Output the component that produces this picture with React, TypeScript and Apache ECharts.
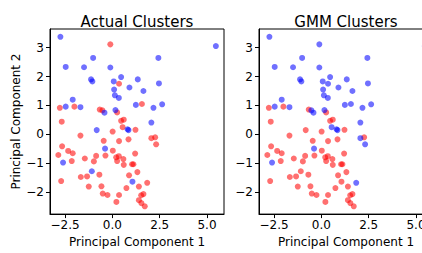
import React, { useEffect, useRef } from "react";
import * as echarts from "echarts";

// Principal component coordinates of each sample
const pc1: number[] = [
  -2.75, -0.11, -1.02, 2.43, -2.47, -1.5, -0.11, -1.13, -1.06, 0.46,
  0.07, 0.35, 1.34, 2.46, 0.9, 0.09, 1.64, 0.13, 0.34, -2.1,
  1.24, 1.56, 2.17, 2.63, -2.78, -2.47, -2.01, -1.69, -0.67, -0.53,
  -0.42, 0.16, 0.25, -2.68, 0.46, 0.6, 2.06, 5.47,
  0.54, 0.85, 0.8, 1.22, -0.83, 0.01, -1.69, 2.06, 2.26, 2.31,
  -0.46, 0.35, 0.85, -0.39, -2.66, -2.34, -2.1, -2.86, -2.61, -2.15,
  -1.46, -0.98, -0.86, -0.37, 0.02, 0.2, 0.34, 0.25, 0.58, 0.6,
  1.04, 1.11, 1.2, 1.32, -1.09, -0.69, -1.34, -1.67, -2.71, 0.88,
  1.06, 1.84, 1.4, 0.74, -1.25, -0.58, -0.51, -0.26, 0.35, 0.21,
  1.52, 1.64, 1.4, 1.53, 1.71,
];
const pc2: number[] = [
  3.37, 3.11, 2.64, 2.64, 2.33, 2.32, 2.31, 1.9, 1.83, 1.98,
  1.83, 1.75, 1.9, 1.76, 1.62, 1.55, 1.5, 1.35, 1.26, 1.2,
  1.02, 1.05, 0.92, 1.04, 0.92, 0.96, 0.96, 0.94, 0.86, 0.83,
  0.75, 0.84, 0.76, 0.44, 0.47, 0.51, 0.41, 3.05,
  0.25, 0.15, 0.18, 0.16, 0.15, 0.1, -0.04, -0.13, -0.1, -0.34,
  -0.22, -0.23, -0.17, -0.49, -0.41, -0.57, -0.65, -0.71, -0.97, -0.92,
  -0.83, -0.93, -0.74, -0.73, -0.56, -0.79, -0.75, -0.92, -0.85, -1.05,
  -1.03, -1.03, -0.66, -1.3, -1.27, -1.39, -1.45, -1.47, -1.61, -1.41,
  -1.63, -1.67, -1.8, -1.85, -1.8, -1.79, -2.04, -2.09, -2.09, -2.33,
  -2.1, -2.06, -2.27, -2.37, -2.48,
];
// 0 = red cluster, 1 = blue cluster
const actualLabel: number[] = [
  1, 0, 1, 1, 1, 1, 1, 1, 1, 1,
  1, 0, 1, 1, 1, 1, 1, 1, 1, 1,
  1, 0, 1, 1, 0, 1, 0, 1, 0, 0,
  1, 1, 0, 0, 0, 0, 1, 1,
  0, 1, 1, 0, 1, 0, 0, 0, 0, 0,
  0, 0, 0, 1, 0, 0, 0, 0, 1, 0,
  0, 0, 0, 0, 0, 0, 0, 0, 0, 0,
  0, 0, 0, 0, 1, 0, 0, 0, 0, 0,
  1, 0, 0, 0, 0, 0, 0, 0, 0, 0,
  0, 0, 0, 0, 0,
];
const gmmLabel: number[] = [
  1, 1, 1, 1, 1, 1, 1, 1, 1, 1,
  1, 1, 1, 1, 1, 1, 1, 1, 1, 1,
  1, 1, 1, 1, 0, 1, 0, 1, 0, 1,
  1, 1, 0, 0, 0, 0, 1, 1,
  1, 1, 1, 0, 0, 0, 0, 1, 0, 1,
  0, 0, 0, 1, 0, 0, 0, 0, 1, 0,
  0, 0, 0, 0, 0, 0, 0, 0, 0, 0,
  0, 0, 0, 0, 0, 0, 0, 0, 0, 0,
  0, 1, 0, 0, 0, 0, 0, 0, 0, 0,
  0, 0, 0, 0, 0,
];

const panelTitles = ["Actual Clusters", "GMM Clusters"];
const xTicks = [-2.5, 0, 2.5, 5];
const yTicks = [-2, -1, 0, 1, 2, 3];
const xName = "Principal Component 1";
const yName = "Principal Component 2";

const RED = "rgba(255,0,0,0.7)";
const BLUE = "rgba(0,0,255,0.7)";
const FONT = "DejaVu Sans";

const fmtX = (v: number) => {
  const s = Math.abs(v).toFixed(1);
  return v < 0 ? "\u2212" + s : s;
};
const fmtY = (v: number) => {
  const s = String(Math.abs(Math.round(v)));
  return v < 0 ? "\u2212" + s : s;
};

function pts(labels: number[], which: number): number[][] {
  const out: number[][] = [];
  for (let i = 0; i < pc1.length; i++) {
    if (labels[i] === which) out.push([pc1[i], pc2[i]]);
  }
  return out;
}

export default function App() {
  const ref = useRef<HTMLDivElement>(null);
  useEffect(() => {
    if (!ref.current) return;
    const chart = echarts.init(ref.current, null, { renderer: "svg" });
    const grids = [
      { left: 50, top: 29, width: 174, height: 193 },
      { left: 259, top: 29, width: 174, height: 193 },
    ];
    const axisCommon = {
      axisLine: { show: true, onZero: false, lineStyle: { color: "#000", width: 1 } },
      splitLine: { show: false },
    };
    const xAxes = grids.map((_, i) => ({
      type: "value",
      gridIndex: i,
      min: -3.3,
      max: 5.9,
      ...axisCommon,
      axisTick: { show: true, length: 4, customValues: xTicks, lineStyle: { color: "#000" } },
      axisLabel: {
        customValues: xTicks,
        formatter: fmtX,
        color: "#000",
        fontSize: 12,
        fontFamily: FONT,
        margin: 5,
      },
      name: xName,
      nameLocation: "middle",
      nameGap: 18,
      nameTextStyle: { color: "#000", fontSize: 12, fontFamily: FONT },
    }));
    const yAxes = grids.map((_, i) => ({
      type: "value",
      gridIndex: i,
      min: -2.75,
      max: 3.64,
      ...axisCommon,
      axisTick: { show: true, length: 4, customValues: yTicks, lineStyle: { color: "#000" } },
      axisLabel: {
        customValues: yTicks,
        formatter: fmtY,
        color: "#000",
        fontSize: 12,
        fontFamily: FONT,
        margin: 6,
      },
      name: i === 0 ? yName : "",
      nameLocation: "middle",
      nameGap: 24,
      nameTextStyle: { color: "#000", fontSize: 12, fontFamily: FONT },
    }));
    const labelSets = [actualLabel, gmmLabel];
    const series: any[] = [];
    labelSets.forEach((labels, i) => {
      [0, 1].forEach((c) => {
        series.push({
          type: "scatter",
          xAxisIndex: i,
          yAxisIndex: i,
          data: pts(labels, c),
          symbolSize: 6,
          itemStyle: { color: c === 0 ? RED : BLUE },
          silent: true,
        });
      });
    });
    chart.setOption({
      animation: false,
      title: panelTitles.map((t, i) => ({
        text: t,
        left: grids[i].left + grids[i].width / 2,
        textAlign: "center",
        top: 14.5,
        padding: 0,
        textStyle: { color: "#000", fontSize: 15, fontWeight: "normal", fontFamily: FONT },
      })),
      grid: grids.map((g) => ({ ...g, show: true, borderColor: "#000", borderWidth: 1, backgroundColor: "#fff" })),
      xAxis: xAxes,
      yAxis: yAxes,
      series,
    });
    return () => chart.dispose();
  }, []);
  return (
    <div style={{ width: 422, height: 253, position: "absolute", left: 0, top: 0, overflow: "hidden" }}>
      <div ref={ref} style={{ width: 450, height: 253 }} />
    </div>
  );
}
